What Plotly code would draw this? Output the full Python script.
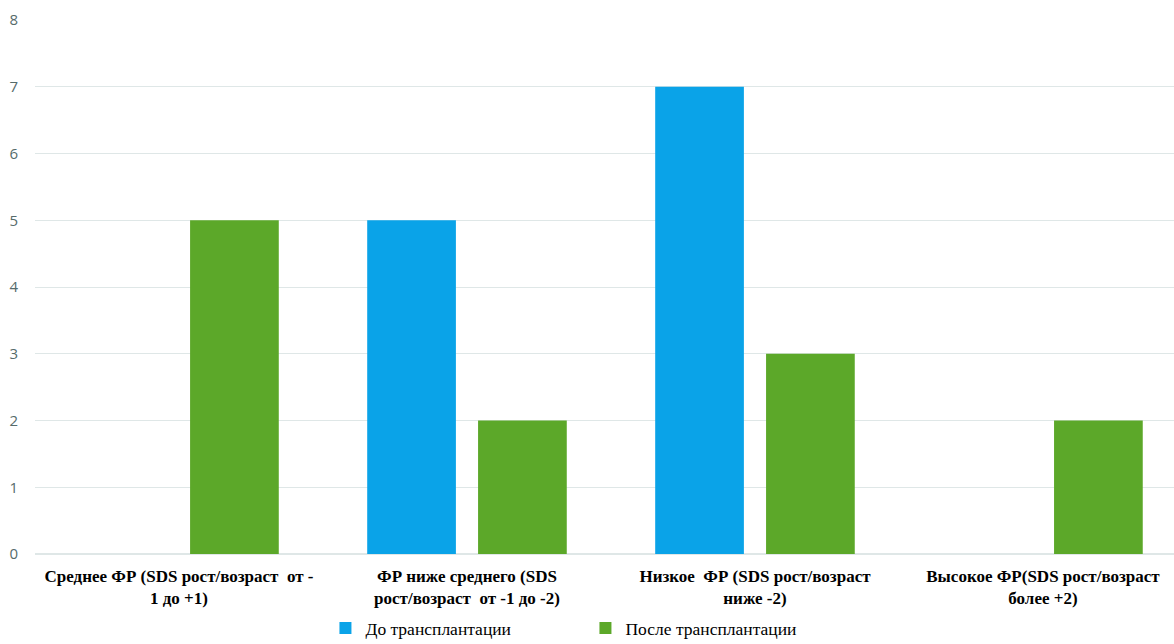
import plotly.graph_objects as go

categories = [
    "Среднее ФР (SDS рост/возраст  от -<br>1 до +1)",
    "ФР ниже среднего (SDS<br>рост/возраст  от -1 до -2)",
    "Низкое  ФР (SDS рост/возраст<br>ниже -2)",
    "Высокое ФР(SDS рост/возраст<br>более +2)",
]
before = [0, 5, 7, 0]
after = [5, 2, 3, 2]
series_names = ["До трансплантации", "После трансплантации"]
y_ticks = [0, 1, 2, 3, 4, 5, 6, 7, 8]

SERIF = "Liberation Serif"

fig = go.Figure()
fig.add_trace(go.Bar(x=categories, y=before, name=series_names[0],
                     marker=dict(color="#0AA3E8", line=dict(width=0))))
fig.add_trace(go.Bar(x=categories, y=after, name=series_names[1],
                     marker=dict(color="#5CA829", line=dict(width=0))))

fig.update_layout(
    width=1174, height=644,
    margin=dict(l=35, r=0, t=20, b=90, autoexpand=False),
    paper_bgcolor="white", plot_bgcolor="white",
    barmode="group", bargap=0.23, bargroupgap=0.2,
    showlegend=True,
    legend=dict(orientation="h", x=0.255, xanchor="left", y=-0.105, yanchor="top",
                font=dict(family=SERIF, size=17.5, color="#000000"),
                entrywidth=215, entrywidthmode="pixels",
                itemwidth=30, traceorder="normal"),
    xaxis=dict(range=[-0.5, 3.455], showgrid=False, showline=False, zeroline=False,
               automargin=False, ticks="", ticklabelstandoff=10,
               tickfont=dict(family=SERIF, size=17, color="#000000"),
               tickprefix="<b>", ticksuffix="</b>"),
    yaxis=dict(range=[0, 8], tickvals=y_ticks, showgrid=True, gridcolor="#dfe7e7",
               gridwidth=1, zeroline=True, zerolinecolor="#dfe7e7", showline=False,
               automargin=False, ticks="", ticklabelstandoff=16,
               tickfont=dict(family="Open Sans", size=15, color="#566b6b")),
)

fig.write_html("out.html")
